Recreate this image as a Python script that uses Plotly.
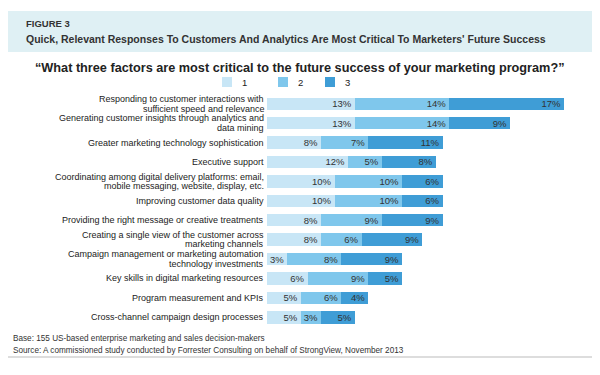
import plotly.graph_objects as go

categories = [
    "Responding to customer interactions with<br>sufficient speed and relevance",
    "Generating customer insights through analytics and<br>data mining",
    "Greater marketing technology sophistication",
    "Executive support",
    "Coordinating among digital delivery platforms: email,<br>mobile messaging, website, display, etc.",
    "Improving customer data quality",
    "Providing the right message or creative treatments",
    "Creating a single view of the customer across<br>marketing channels",
    "Campaign management or marketing automation<br>technology investments",
    "Key skills in digital marketing resources",
    "Program measurement and KPIs",
    "Cross-channel campaign design processes",
]
rank1 = [13, 13, 8, 12, 10, 10, 8, 8, 3, 6, 5, 5]
rank2 = [14, 14, 7, 5, 10, 10, 9, 6, 8, 9, 6, 3]
rank3 = [17, 9, 11, 8, 6, 6, 9, 9, 9, 5, 4, 5]
series_names = ["1", "2", "3"]
colors = ["#c8e6f6", "#7fc7ec", "#3f9dd6"]

FONT = "Liberation Sans, Arial, sans-serif"
W, H = 600, 375
L, R, T, B = 267, 9, 94, 48
PW, PH = W - L - R, H - T - B


def px(x):
    return (x - L) / PW


def py(y):
    return (H - B - y) / PH


fig = go.Figure()
for name, vals, col in zip(series_names, [rank1, rank2, rank3], colors):
    fig.add_trace(go.Bar(
        y=categories, x=vals, name=name, orientation="h",
        marker=dict(color=col, line=dict(width=0)),
        text=[f"{v}%" for v in vals], textposition="inside",
        insidetextanchor="end",
        textfont=dict(family=FONT, size=9.5, color="#333333"),
        cliponaxis=False,
    ))

shapes = [
    dict(type="rect", xref="paper", yref="paper", x0=px(8), x1=px(592),
         y0=py(52), y1=py(11), fillcolor="#dff0f4", line=dict(width=0), layer="below"),
    dict(type="line", xref="paper", yref="paper", x0=px(8), x1=px(592),
         y0=py(357), y1=py(357), line=dict(color="#bbbbbb", width=1)),
]
annotations = [
    dict(text="<b>FIGURE 3</b>", x=px(24), y=py(24), xanchor="left", yanchor="middle",
         font=dict(family=FONT, size=9.5, color="#333333")),
    dict(text="<b>Quick, Relevant Responses To Customers And Analytics Are Most Critical To Marketers' Future Success</b>",
         x=px(24), y=py(39), xanchor="left", yanchor="middle",
         font=dict(family=FONT, size=10.5, color="#333333")),
    dict(text="<b>\u201cWhat three factors are most critical to the future success of your marketing program?\u201d</b>",
         x=px(299), y=py(68), xanchor="center", yanchor="middle",
         font=dict(family=FONT, size=12.7, color="#222222")),
    dict(text="Base: 155 US-based enterprise marketing and sales decision-makers",
         x=px(11), y=py(338), xanchor="left", yanchor="middle",
         font=dict(family=FONT, size=8.2, color="#333333")),
    dict(text="Source: A commissioned study conducted by Forrester Consulting on behalf of StrongView, November 2013",
         x=px(11), y=py(350), xanchor="left", yanchor="middle",
         font=dict(family=FONT, size=8.2, color="#333333")),
]
legend_x = [222, 278, 325]
for lx, name, col in zip(legend_x, series_names, colors):
    shapes.append(dict(type="rect", xref="paper", yref="paper", x0=px(lx), x1=px(lx + 10),
                       y0=py(87), y1=py(77), fillcolor=col, line=dict(width=0)))
    annotations.append(dict(text=name, x=px(lx + 18), y=py(82), xanchor="left", yanchor="middle",
                            font=dict(family=FONT, size=9.5, color="#222222")))
for a in annotations:
    a.update(xref="paper", yref="paper", showarrow=False)

# category labels: one annotation per line, placed on the category axis
LINE_STEP = 9.7
for cat in categories:
    lines = cat.split("<br>")
    n = len(lines)
    for i, line in enumerate(lines):
        annotations.append(dict(
            text=line, xref="paper", yref="y", x=px(265), y=cat,
            xanchor="right", yanchor="middle", showarrow=False, borderpad=0,
            yshift=(n - 1) * LINE_STEP / 2 - i * LINE_STEP,
            font=dict(family=FONT, size=9, color="#222222"),
        ))

fig.update_layout(
    width=W, height=H, barmode="stack", bargap=0.36,
    margin=dict(l=L, r=R, t=T, b=B, autoexpand=False),
    paper_bgcolor="white", plot_bgcolor="white",
    showlegend=False,
    xaxis=dict(range=[0, 48], visible=False, fixedrange=True),
    yaxis=dict(range=[11.5, -0.5], showgrid=False, zeroline=False, showline=False,
               ticks="", showticklabels=False, fixedrange=True),
    shapes=shapes, annotations=annotations,
    uniformtext=dict(minsize=8, mode="show"),
)
fig.write_html("out.html", config={"displayModeBar": False},
               post_script="document.body.style.margin='0';")
